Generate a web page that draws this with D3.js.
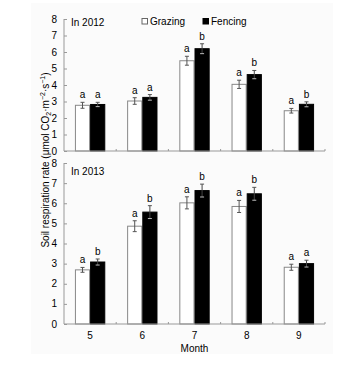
<!DOCTYPE html>
<html><head><meta charset="utf-8">
<script src="https://cdn.jsdelivr.net/npm/d3@7"></script>
<style>body{margin:0;background:#fff}text{font-family:"Liberation Sans",Arial,sans-serif;fill:#000}</style>
</head><body><svg id="c" width="357" height="366"></svg>
<script>
const months = ["5","6","7","8","9"];
const series = ["Grazing","Fencing"];
const yTicks = [0,1,2,3,4,5,6,7,8];
const g2012 = [2.77,3.03,5.47,4.04,2.44];
const f2012 = [2.82,3.25,6.2,4.63,2.83];
const g2012e = [0.18,0.2,0.27,0.25,0.14];
const f2012e = [0.13,0.17,0.3,0.25,0.15];
const g2013 = [2.69,4.86,6.02,5.84,2.82];
const f2013 = [3.08,5.56,6.63,6.47,3.0];
const g2013e = [0.12,0.27,0.3,0.3,0.15];
const f2013e = [0.15,0.32,0.32,0.32,0.17];
const l2012g = ["a","a","a","a","a"], l2012f = ["a","a","b","b","b"];
const l2013g = ["a","a","a","a","a"], l2013f = ["b","b","b","b","a"];

const svg = d3.select("#c");
svg.append("rect").attr("x",31).attr("y",3).attr("width",302).attr("height",351).attr("fill","#fbfbfb");
const x0 = 64, x1 = 325;
const x = d3.scaleBand().domain(months).range([x0,x1]);
const xs = d3.scaleBand().domain(series).range([0,x.bandwidth()]).paddingInner(0).paddingOuter(0.72);
const axisCol = "#999";
const FS = 10;

function panel(yTop, yBot, G, F, Ge, Fe, Lg, Lf, title, titleY, showX){
  const y = d3.scaleLinear().domain([0,8]).range([yBot,yTop]);
  const g = svg.append("g");
  const data = months.map((m,i)=>({m, vals:[{s:"Grazing",v:G[i],e:Ge[i],l:Lg[i]},{s:"Fencing",v:F[i],e:Fe[i],l:Lf[i]}]}));
  const grp = g.selectAll("g.m").data(data).join("g").attr("transform",d=>`translate(${x(d.m)},0)`);
  const b = grp.selectAll("g.b").data(d=>d.vals).join("g");
  b.append("rect").attr("x",d=>xs(d.s)+0.5).attr("width",xs.bandwidth()-1)
    .attr("y",d=>y(d.v)).attr("height",d=>yBot-y(d.v))
    .attr("fill",d=>d.s==="Grazing"?"#fff":"#000")
    .attr("stroke",d=>d.s==="Grazing"?"#888":"#000").attr("stroke-width",1);
  const cx = d=>xs(d.s)+xs.bandwidth()/2;
  b.append("line").attr("x1",cx).attr("x2",cx).attr("y1",d=>y(d.v+d.e)).attr("y2",d=>y(d.v-d.e))
    .attr("stroke",d=>d.s==="Grazing"?"#555":"#444").attr("stroke-width",1);
  b.append("line").attr("x1",d=>cx(d)-2).attr("x2",d=>cx(d)+2).attr("y1",d=>y(d.v+d.e)).attr("y2",d=>y(d.v+d.e)).attr("stroke","#555");
  b.append("line").attr("x1",d=>cx(d)-2).attr("x2",d=>cx(d)+2).attr("y1",d=>y(d.v-d.e)).attr("y2",d=>y(d.v-d.e)).attr("stroke",d=>d.s==="Grazing"?"#555":"#bbb");
  b.append("text").attr("x",cx).attr("y",d=>y(d.v+d.e)-4).attr("text-anchor","middle").attr("font-size",FS)
    .style("fill","#000").text(d=>d.l);
  const ya = g.append("g").attr("transform",`translate(${x0},0)`).call(d3.axisRight(y).tickValues(yTicks).tickSize(3).tickFormat(""));
  ya.select(".domain").attr("stroke",axisCol).attr("d",`M0,${yBot}V${yTop}`);
  ya.selectAll(".tick line").attr("stroke",axisCol);
  g.selectAll("text.yl").data(yTicks).join("text").attr("class","yl").attr("x",x0-7).attr("y",d=>y(d)+3.5)
    .attr("text-anchor","end").attr("font-size",FS).text(d=>d);
  const xa = g.append("g").attr("transform",`translate(0,${yBot})`).call(d3.axisTop(x).tickSize(0).tickFormat(""));
  xa.select(".domain").attr("stroke",axisCol).attr("d",`M${x0},0H${x1}`);
  g.selectAll("line.xt").data(months).join("line").attr("class","xt")
    .attr("x1",d=>x(d)+x.bandwidth()).attr("x2",d=>x(d)+x.bandwidth()).attr("y1",yBot).attr("y2",yBot-2).attr("stroke",axisCol);
  if(showX){
    g.selectAll("text.xl").data(months).join("text").attr("class","xl").attr("x",d=>x(d)+x.bandwidth()/2).attr("y",yBot+15)
      .attr("text-anchor","middle").attr("font-size",FS).text(d=>d);
  }
  g.append("text").attr("x",x0+7).attr("y",titleY).attr("font-size",FS).text(title);
}
panel(19,151,g2012,f2012,g2012e,f2012e,l2012g,l2012f,"In 2012",25.5,false);
panel(163,324,g2013,f2013,g2013e,f2013e,l2013g,l2013f,"In 2013",175,true);

const lg = svg.append("g");
const lx = [142,203];
series.forEach((s,i)=>{
  lg.append("rect").attr("x",lx[i]).attr("y",18.5).attr("width",5.5).attr("height",5.5)
    .attr("fill",s==="Grazing"?"#fff":"#000").attr("stroke",s==="Grazing"?"#666":"#000");
  lg.append("text").attr("x",lx[i]+8).attr("y",25).attr("font-size",FS).text(s);
});
svg.append("text").attr("x",(x0+x1)/2).attr("y",352).attr("text-anchor","middle").attr("font-size",FS).text("Month");
const yl = svg.append("text").attr("transform","translate(48.5,160) rotate(-90)").attr("text-anchor","middle").attr("font-size",FS);
yl.append("tspan").text("Soil respiration rate (μmol CO");
yl.append("tspan").attr("font-size",7).attr("dy",2.5).text("2");
yl.append("tspan").attr("dy",-2.5).text("·m");
yl.append("tspan").attr("font-size",7).attr("dy",-3.5).text("−2");
yl.append("tspan").attr("dy",3.5).text("·s");
yl.append("tspan").attr("font-size",7).attr("dy",-3.5).text("−1");
yl.append("tspan").attr("dy",3.5).text(")");
</script></body></html>
